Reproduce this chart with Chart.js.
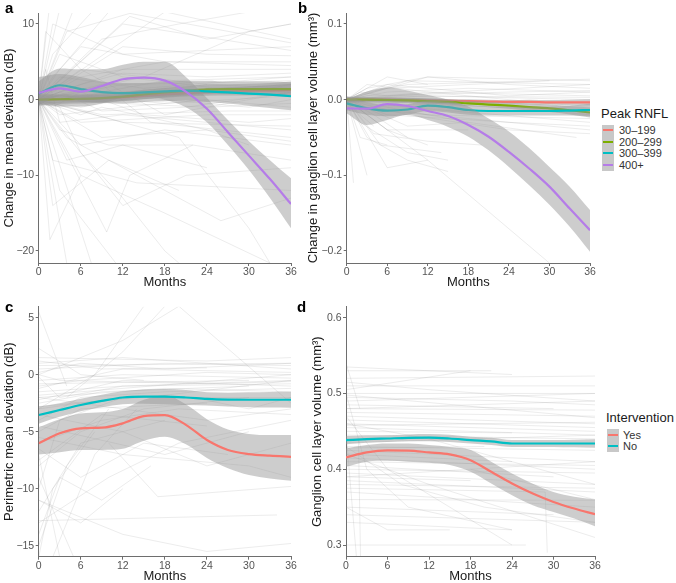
<!DOCTYPE html>
<html lang="en">
<head>
<meta charset="UTF-8">
<title>RNFL and intervention trajectories</title>
<script src="https://cdn.jsdelivr.net/npm/chart.js"></script>
<style>
  body {
    margin: 0;
    width: 676px;
    height: 583px;
    overflow: hidden;
    background: #fff;
    position: relative;
    font-family: "Liberation Sans", Arial, Helvetica, sans-serif;
  }
  canvas { position: absolute; }
  .tag { position: absolute; font-size: 15px; line-height: 15px; font-weight: bold; color: #000; }
  .ttl { position: absolute; font-size: 13px; line-height: 15px; color: #1a1a1a; white-space: nowrap; }
  .keys { position: absolute; background: #c8c8c8; }
  .key { position: absolute; height: 2px; }
  .lab { position: absolute; font-size: 11px; line-height: 12px; color: #333; white-space: nowrap; }
</style>
</head>
<body>
<canvas id="chartA" width="300" height="292" style="left:0;top:0"></canvas>
<canvas id="chartB" width="300" height="292" style="left:300px;top:0"></canvas>
<canvas id="chartC" width="300" height="293" style="left:0;top:292px"></canvas>
<canvas id="chartD" width="305" height="293" style="left:300px;top:292px"></canvas>

<div class="tag" style="left:5px;top:0">a</div>
<div class="tag" style="left:298px;top:0">b</div>
<div class="tag" style="left:5px;top:299px">c</div>
<div class="tag" style="left:297px;top:299px">d</div>

<div id="legendB"></div>
<div id="legendD"></div>

<script>
Chart.defaults.font.family = '"Liberation Sans", Arial, Helvetica, sans-serif';

// Shared axes
const months = [0, 3, 6, 9, 12, 15, 18, 21, 24, 27, 30, 33, 36];
const monthTicks = [0, 6, 12, 18, 24, 30, 36];
const aTicks = [-20, -10, 0, 10];
const bTicks = [-0.2, -0.1, 0, 0.1];
const cTicks = [-15, -10, -5, 0, 5];
const dTicks = [0.3, 0.4, 0.5, 0.6];

const rnflLabels = ["30–199", "200–299", "300–399", "400+"];
const rnflColors = ["#F8766D", "#7CAE00", "#00BFC4", "#B57CE8"];
const interventionLabels = ["Yes", "No"];
const interventionColors = ["#F8766D", "#00BFC4"];

// a: change in mean deviation (dB), smoothed fits per Peak RNFL group
const a30 = [0, 0.05, 0.1, 0.15, 0.3, 0.5, 0.7, 0.85, 1.0, 1.1, 1.15, 1.2, 1.25];
const a30Lo = [-0.6, -0.45, -0.35, -0.3, -0.15, 0.05, 0.25, 0.4, 0.5, 0.55, 0.55, 0.5, 0.4];
const a30Hi = [0.6, 0.55, 0.55, 0.6, 0.75, 0.95, 1.15, 1.3, 1.5, 1.65, 1.75, 1.9, 2.1];
const a200 = [0, 0.05, 0.1, 0.2, 0.4, 0.7, 0.95, 1.15, 1.35, 1.4, 1.4, 1.4, 1.4];
const a200Lo = [-0.8, -0.6, -0.5, -0.4, -0.2, 0.1, 0.35, 0.55, 0.7, 0.75, 0.7, 0.6, 0.4];
const a200Hi = [0.8, 0.7, 0.7, 0.8, 1.0, 1.3, 1.55, 1.75, 2.0, 2.05, 2.1, 2.2, 2.4];
const a300 = [0.8, 1.9, 1.4, 1.0, 0.85, 0.95, 1.1, 1.2, 1.1, 0.95, 0.8, 0.65, 0.45];
const a300Lo = [-0.7, 0.4, -0.2, -0.4, -0.5, -0.3, -0.2, -0.1, -0.3, -0.5, -0.8, -1.1, -1.4];
const a300Hi = [3.0, 3.4, 3.0, 2.4, 2.2, 2.2, 2.4, 2.5, 2.5, 2.4, 2.4, 2.4, 2.3];
const a400 = [0.9, 1.5, 1.06, 1.81, 2.7, 2.91, 2.51, 1.06, -1.2, -4.3, -7.4, -10.5, -13.8];
const a400Lo = [-0.6, -0.9, -0.9, -0.5, 0.2, 0.4, 0.0, -1.0, -3.0, -6.0, -9.3, -13.0, -17.0];
const a400Hi = [2.4, 4.1, 4.0, 4.0, 4.6, 5.0, 5.0, 3.0, 0.2, -2.7, -5.5, -8.0, -10.4];

// b: change in ganglion cell layer volume (mm3)
const b30 = [0, 0, 0, -0.0005, -0.001, -0.0015, -0.002, -0.0025, -0.003, -0.003, -0.0035, -0.0035, -0.0035];
const b30Lo = [-0.003, -0.0025, -0.0025, -0.003, -0.0035, -0.004, -0.0045, -0.005, -0.0055, -0.006, -0.0065, -0.007, -0.0075];
const b30Hi = [0.003, 0.0025, 0.0025, 0.002, 0.0015, 0.001, 0.0005, 0, -0.0005, 0, -0.0005, 0, 0.0005];
const b200 = [0, 0, -0.0005, -0.001, -0.002, -0.003, -0.005, -0.0065, -0.008, -0.01, -0.0115, -0.014, -0.017];
const b200Lo = [-0.004, -0.0035, -0.004, -0.0045, -0.0055, -0.0065, -0.0085, -0.01, -0.012, -0.0145, -0.0165, -0.0195, -0.0235];
const b200Hi = [0.004, 0.0035, 0.003, 0.0025, 0.0015, 0.0005, -0.0015, -0.003, -0.004, -0.0055, -0.0065, -0.0085, -0.0105];
const b300 = [-0.005, -0.0115, -0.0145, -0.013, -0.008, -0.01, -0.0137, -0.015, -0.015, -0.015, -0.015, -0.0145, -0.0137];
const b300Lo = [-0.014, -0.02, -0.022, -0.02, -0.015, -0.017, -0.02, -0.021, -0.021, -0.021, -0.021, -0.021, -0.022];
const b300Hi = [0.004, -0.003, -0.007, -0.006, -0.001, -0.003, -0.0075, -0.009, -0.009, -0.009, -0.009, -0.008, -0.0055];
const b400 = [-0.0115, -0.012, -0.006, -0.0084, -0.015, -0.0216, -0.0335, -0.049, -0.069, -0.091, -0.115, -0.144, -0.1725];
const b400Lo = [-0.018, -0.0335, -0.027, -0.02, -0.027, -0.036, -0.049, -0.067, -0.089, -0.113, -0.139, -0.168, -0.201];
const b400Hi = [0.0, 0.0106, 0.016, 0.012, 0.006, 0.0, -0.009, -0.025, -0.042, -0.064, -0.089, -0.115, -0.146];

// c: perimetric mean deviation (dB) by intervention
const cYes = [-6.02, -5.14, -4.7, -4.65, -4.27, -3.63, -3.54, -4.4, -5.73, -6.6, -6.96, -7.1, -7.2];
const cYesLo = [-7.0, -6.8, -6.6, -6.6, -6.5, -5.8, -5.44, -6.1, -7.3, -8.2, -8.8, -9.1, -9.3];
const cYesHi = [-4.6, -3.9, -3.4, -3.3, -3.0, -2.2, -1.8, -2.6, -3.9, -4.8, -5.2, -5.3, -5.3];
const cNo = [-3.54, -3.1, -2.66, -2.3, -2.0, -1.93, -1.93, -2.0, -2.13, -2.19, -2.2, -2.2, -2.2];
const cNoLo = [-4.3, -3.7, -3.2, -2.85, -2.6, -2.55, -2.6, -2.65, -2.7, -2.8, -2.85, -2.88, -2.9];
const cNoHi = [-2.8, -2.5, -2.1, -1.75, -1.45, -1.3, -1.25, -1.35, -1.55, -1.58, -1.55, -1.52, -1.5];

// d: ganglion cell layer volume (mm3) by intervention
const dYes = [0.4156, 0.4222, 0.4248, 0.4246, 0.4222, 0.4196, 0.412, 0.3966, 0.3812, 0.368, 0.3569, 0.3482, 0.3407];
const dYesLo = [0.4032, 0.41, 0.4111, 0.41, 0.4085, 0.4055, 0.3966, 0.3812, 0.3658, 0.3526, 0.3437, 0.335, 0.3248];
const dYesHi = [0.4275, 0.432, 0.434, 0.434, 0.432, 0.4295, 0.4253, 0.41, 0.3945, 0.381, 0.37, 0.3636, 0.36];
const dNo = [0.4384, 0.4397, 0.4406, 0.4415, 0.4418, 0.4406, 0.4384, 0.4367, 0.434, 0.434, 0.434, 0.434, 0.434];
const dNoLo = [0.433, 0.435, 0.436, 0.437, 0.437, 0.436, 0.434, 0.432, 0.4295, 0.4295, 0.4295, 0.429, 0.4285];
const dNoHi = [0.444, 0.4445, 0.445, 0.446, 0.4465, 0.4455, 0.443, 0.4415, 0.4385, 0.4385, 0.4385, 0.439, 0.4395];

// Individual patient trajectories (month, value, month, value, ...)
const spagA = [
  [0,0, 1.5,12], [0,0, 3,12], [0,0, 5,12], [0,0, 2,6, 8,12],
  [0,0, 4,9, 13,11.4, 36,7.5], [0,0, 6,5, 12,10, 36,6.5], [0,0, 3,4, 10,11.6],
  [0,0, 12,7, 24,6, 36,5.8], [0,0, 6,3, 18,5, 36,4.5], [0,0, 9,8, 20,10, 30,11.6],
  [0,0, 18,11.6, 36,8], [0,0, 6,2, 12,3.5, 24,3, 36,3.5], [0,0, 3,2, 9,1, 18,2.5, 36,3],
  [0,0, 6,-1, 18,1, 36,2], [0,0, 12,1, 24,2, 36,1.5], [0,0, 3,-2, 12,-1, 24,0, 36,-1],
  [0,0, 6,-3, 24,-2, 36,-2], [0,0, 12,-3, 36,-3.5], [0,0, 9,-5, 24,-4, 36,-5.5],
  [0,0, 6,-6, 18,-4, 36,-6], [0,0, 4,-8, 12,-6, 24,-9], [0,0, 1.6,-18.5, 6,-10],
  [0,0, 4,-21.6], [0,0, 7.5,-21.6], [0,0, 9.7,-17.5, 13,-10, 22,-6],
  [0,0, 3,-12, 11,-21.6], [0,0, 2,-14, 10,-8, 20,-12], [0,0, 6,-10, 18,-15, 33,-21.6],
  [0,0, 12,-14, 21,-10, 36,-9], [0,0, 3,-4, 10,-6, 22,-6, 36,-8], [0,0, 2,-8, 14,-11, 36,-12],
  [0,0, 20,-5, 30,-17, 33,-21.6], [0,0, 9,2, 16,-3, 36,-5], [0,0, 15,3, 30,9, 36,10],
  [0,0, 2,3, 6,7, 18,5, 36,5], [0,0, 1,9, 6,4, 24,2], [0,0, 3,6, 12,3, 30,1, 36,2],
  [0,0, 6,1, 30,-1, 36,0], [0,0, 3,1, 9,-1.5, 21,-1, 36,1], [0,0, 12,2, 36,2.5],
  [0,0, 2,-1, 6,1, 15,-2, 30,-3, 36,-2.5], [0,0, 6,-2, 9,-1, 24,-4, 30,-6],
  [0,0, 13,11, 24,8, 36,10], [0,0, 4,-5, 26,-16, 36,-13], [0,0, 1,4, 3,-3, 12,-2, 36,-4],
  [0,0, 6,4, 18,-2, 36,1], [0,0, 3,-1, 6,-7, 12,-13, 18,-20, 20,-21.6],
  [0,0, 24,-1, 36,-0.5], [0,0, 12,4, 36,4], [0,0, 2,10, 12,6, 36,7],
  [0,0, 6,0.5, 18,-0.5, 36,0.5], [0,0, 9,-2, 27,-1.5, 36,-1.5], [0,0, 3,3, 15,1.5, 36,3]
];
const spagB = [
  [0,0, 3,0.01, 9,0.02, 36,0.027], [0,0, 6,0.03, 12,0.02], [0,0, 9,0.025, 36,0.02],
  [0,0, 12,0.03, 24,0.02, 36,0.015], [0,0, 6,0.01, 18,0.015, 36,0.01], [0,0, 3,0.02, 12,0.01, 36,0.005],
  [0,0, 12,0.005, 36,0], [0,0, 6,-0.005, 24,-0.01, 36,-0.02], [0,0, 3,-0.01, 12,-0.02, 36,-0.025],
  [0,0, 6,-0.02, 24,-0.03, 36,-0.035], [0,0, 2,-0.05, 6,-0.06], [0,0, 3,-0.1], [0,0, 1,-0.11],
  [0,0, 6,-0.04, 12,-0.06], [0,0, 2,-0.03, 9,-0.07, 15,-0.08], [0,0, 4,-0.045, 12,-0.055, 20,-0.06],
  [0,0, 5,-0.06, 14,-0.07], [0,0, 3,-0.05, 9,-0.08, 15,-0.095], [0,0, 12,-0.08, 30,-0.216],
  [0,0, 6,-0.01, 18,-0.03, 34,-0.05], [0,0, 9,-0.01, 36,-0.03], [0,0, 3,0.005, 24,0.01, 36,0.012],
  [0,0, 6,0.015, 30,0.025], [0,0, 12,-0.005, 36,-0.008], [0,0, 4,-0.02, 9,-0.05],
  [0,0, 2,0.01, 6,0.005, 36,0.003], [0,0, 9,-0.035, 18,-0.03], [0,0, 6,-0.09, 12,-0.08],
  [0,0, 12,0.01, 36,-0.01], [0,0, 18,-0.005, 36,-0.015], [0,0, 15,0.01, 36,0.02],
  [0,0, 6,-0.015, 36,-0.04], [0,0, 3,0.015, 12,0.03, 36,0.025], [0,0, 6,0.02, 24,0.005, 36,0.01],
  [0,0, 3,-0.02, 6,-0.04, 18,-0.04], [0,0, 9,-0.02, 24,-0.04, 36,-0.045], [0,0, 2,-0.02, 4,-0.035]
];
const spagC = [
  [0,1, 12,1.5, 36,0.5], [0,0.5, 18,1, 36,0.8], [0,-0.5, 12,0, 36,-0.3], [0,-1, 6,-0.5, 24,0.2, 36,0],
  [0,-1.5, 12,-1, 36,-0.8], [0,-2, 18,-1.2, 36,-1.5], [0,-2.5, 9,-1.5, 30,-1], [0,-3, 12,-2, 36,-2],
  [0,0.2, 6,1, 18,0.5, 36,1], [0,1.2, 9,0.5, 24,0.6], [0,-0.2, 3,-2, 12,-1, 36,-0.5], [0,5.5, 4,-1],
  [0,2.3, 6,0, 15,-0.5], [0,-4, 6,-2, 18,-1.5, 36,-1.2], [0,-5, 6,-3, 24,-2.5], [0,-6, 9,-4, 20,-3, 36,-3.5],
  [0,-8, 6,-5, 15,-3, 30,-2], [0,-10, 3,-4, 12,-2], [0,-12, 6,-6, 18,-4], [0,-15, 4,-8, 10,-3],
  [0,-16, 2,-10, 8,-5], [0,-13, 10,-9, 20,-6, 36,-4], [0,-12.8, 20,-12.5, 34,-12.3], [0,-9, 5,-16],
  [0,-7, 3,-16], [2,-16, 8,-7, 14,-3], [0,-11, 12,-14, 24,-15.5, 36,-14.8], [10,-6, 17,-10.7, 36,-9.8],
  [0,-3, 8,0, 15,6], [4,-2, 12,2, 18,6], [0,0, 12,3, 20,6, 36,-2.5], [0,-3.5, 12,-5, 24,-8, 36,-6],
  [0,-4.5, 18,-7, 30,-5], [0,-5.5, 12,-7, 30,-8, 36,-9], [0,-2, 24,-4, 36,-3], [0,0.8, 36,1],
  [0,1.5, 24,1.2, 36,1.5], [0,-0.8, 30,-0.5], [0,-1.8, 36,0], [0,-2.8, 18,-1.8, 36,-0.5],
  [0,-1.2, 6,-0.3, 12,0.5, 36,0.2], [0,-2.2, 12,-0.5, 36,-1], [0,0, 3,-0.5, 24,-0.8, 36,-0.6],
  [0,-14, 3,-9, 9,-11, 16,-8], [0,-11, 6,-13, 12,-10], [0,-6.5, 6,-9, 15,-6, 27,-7],
  [0,-7.5, 9,-3.5, 24,-4.5], [22,-2, 30,-3, 36,-2]
];
const spagD = [
  [0,0.535, 12,0.53, 24,0.525], [0,0.52, 36,0.523], [0,0.51, 36,0.51], [0,0.505, 18,0.53],
  [0,0.5, 36,0.5], [0,0.495, 24,0.49, 36,0.485], [0,0.49, 36,0.5], [0,0.485, 30,0.48],
  [0,0.48, 36,0.478], [0,0.475, 36,0.47], [0,0.47, 36,0.46], [0,0.465, 18,0.46, 36,0.455],
  [0,0.46, 36,0.45], [0,0.455, 36,0.445], [0,0.45, 24,0.448], [0,0.445, 36,0.44],
  [0,0.44, 1.8,0.44, 2.1,0.285], [0,0.43, 36,0.425], [0,0.425, 36,0.41], [0,0.42, 24,0.41],
  [0,0.415, 36,0.4], [0,0.41, 36,0.405], [0,0.405, 30,0.39], [0,0.4, 36,0.395],
  [0,0.395, 36,0.38], [0,0.39, 18,0.385], [0,0.385, 36,0.37], [0,0.38, 36,0.375],
  [0,0.375, 28.8,0.37, 29.1,0.29], [0,0.37, 36,0.35], [0,0.36, 36,0.359], [0,0.35, 30,0.34],
  [0,0.34, 36,0.33], [0,0.33, 24,0.32], [0,0.3, 26,0.3], [0,0.5, 3,0.4, 9,0.35, 24,0.32],
  [0,0.47, 6,0.4, 24,0.3], [0,0.42, 12,0.38, 36,0.31], [0,0.46, 12,0.44, 36,0.38], [0,0.54, 2,0.48],
  [0,0.45, 1.5,0.285], [0,0.48, 36,0.49], [18,0.4, 36,0.36], [0,0.515, 12,0.505, 36,0.49],
  [0,0.498, 36,0.468], [0,0.458, 36,0.462], [0,0.435, 36,0.445], [0,0.428, 20,0.43],
  [0,0.39, 36,0.41], [0,0.53, 21,0.53], [0,0.35, 6,0.32, 15,0.32], [0,0.43, 8,0.38, 20,0.35, 36,0.33]
];

const SPAG_COLOR = "rgba(130, 130, 130, 0.15)";
const BAND_COLOR = "rgba(150, 150, 150, 0.48)";
const AXIS_COLOR = "#6e6e6e";
const TICK_TEXT = "#555555";

function pairs(flat) {
  const out = [];
  for (let i = 0; i < flat.length; i += 2) out.push({ x: flat[i], y: flat[i + 1] });
  return out;
}

function onMonths(values) {
  return months.map((m, i) => ({ x: m, y: values[i] }));
}

// ggplot draws each group's ribbon then its line, so later ribbons wash over earlier lines
function buildDatasets(spag, groups) {
  const ds = spag.map((s) => ({
    data: pairs(s),
    borderColor: SPAG_COLOR,
    borderWidth: 1,
    pointRadius: 0,
    fill: false,
    order: 100,
  }));
  groups.forEach((g, i) => {
    const base = 50 - i * 3;
    ds.push({
      data: onMonths(g.lo),
      borderWidth: 0,
      borderColor: "transparent",
      pointRadius: 0,
      fill: false,
      cubicInterpolationMode: "monotone",
      order: base,
    });
    ds.push({
      data: onMonths(g.hi),
      borderWidth: 0,
      borderColor: "transparent",
      backgroundColor: BAND_COLOR,
      pointRadius: 0,
      fill: "-1",
      cubicInterpolationMode: "monotone",
      order: base,
    });
    ds.push({
      label: g.label,
      data: onMonths(g.mid),
      borderColor: g.color,
      borderWidth: 2.2,
      pointRadius: 0,
      fill: false,
      cubicInterpolationMode: "monotone",
      order: base - 1,
    });
  });
  return ds;
}

function fmtTick(decimals) {
  return (v) => {
    const s = Number(v).toFixed(decimals);
    return s.replace("-", "\u2212");
  };
}

function makePanel(id, datasets, p) {
  new Chart(document.getElementById(id), {
    type: "line",
    data: { datasets },
    options: {
      responsive: false,
      animation: false,
      events: [],
      layout: { padding: p.padding },
      plugins: { legend: { display: false }, tooltip: { enabled: false } },
      scales: {
        x: {
          type: "linear",
          min: 0,
          max: 36,
          afterBuildTicks: (s) => { s.ticks = monthTicks.map((v) => ({ value: v })); },
          afterFit: (s) => { s.height = p.xHeight; },
          ticks: { color: TICK_TEXT, font: { size: 10.5 }, padding: 0, maxRotation: 0, autoSkip: false },
          grid: { drawOnChartArea: false, tickLength: 3, tickColor: AXIS_COLOR, tickWidth: 1 },
          border: { color: AXIS_COLOR, width: 1 },
          title: {
            display: true,
            text: "Months",
            color: "#1a1a1a",
            font: { size: 13 },
            padding: { top: 0, bottom: p.xTitlePad },
          },
        },
        y: {
          type: "linear",
          min: p.yMin,
          max: p.yMax,
          afterBuildTicks: (s) => { s.ticks = p.yTicks.map((v) => ({ value: v })); },
          afterFit: (s) => { s.width = p.yWidth; },
          ticks: { color: TICK_TEXT, font: { size: 10.5 }, padding: 1.5, autoSkip: false, callback: fmtTick(p.decimals) },
          grid: { drawOnChartArea: false, tickLength: 3, tickColor: AXIS_COLOR, tickWidth: 1 },
          border: { color: AXIS_COLOR, width: 1 },
          title: {
            display: true,
            text: p.yTitle,
            color: "#1a1a1a",
            font: { size: 13 },
            padding: { top: p.yTitlePad, bottom: 0 },
          },
        },
      },
    },
  });
}

const rnflFitsA = [[a30, a30Lo, a30Hi], [a200, a200Lo, a200Hi], [a300, a300Lo, a300Hi], [a400, a400Lo, a400Hi]];
const rnflFitsB = [[b30, b30Lo, b30Hi], [b200, b200Lo, b200Hi], [b300, b300Lo, b300Hi], [b400, b400Lo, b400Hi]];

const groupsA = rnflFitsA.map((g, i) => ({ mid: g[0], lo: g[1], hi: g[2], color: rnflColors[i], label: rnflLabels[i] }));
const groupsB = rnflFitsB.map((g, i) => ({ mid: g[0], lo: g[1], hi: g[2], color: rnflColors[i], label: rnflLabels[i] }));
const groupsC = [
  { mid: cYes, lo: cYesLo, hi: cYesHi, color: interventionColors[0], label: interventionLabels[0] },
  { mid: cNo, lo: cNoLo, hi: cNoHi, color: interventionColors[1], label: interventionLabels[1] },
];
const groupsD = [
  { mid: dYes, lo: dYesLo, hi: dYesHi, color: interventionColors[0], label: interventionLabels[0] },
  { mid: dNo, lo: dNoLo, hi: dNoHi, color: interventionColors[1], label: interventionLabels[1] },
];

makePanel("chartA", buildDatasets(spagA, groupsA), {
  padding: { top: 13, left: 0, right: 9, bottom: 0 },
  yMin: -21.59, yMax: 11.45, yTicks: aTicks, decimals: 0,
  yTitle: "Change in mean deviation (dB)",
  yWidth: 38.7, yTitlePad: 1.2, xHeight: 29, xTitlePad: 1.5,
});
makePanel("chartB", buildDatasets(spagB, groupsB), {
  padding: { top: 13, left: 0, right: 10, bottom: 0 },
  yMin: -0.2159, yMax: 0.1145, yTicks: bTicks, decimals: 1,
  yTitle: "Change in ganglion cell layer volume (mm³)",
  yWidth: 46.7, yTitlePad: 5.2, xHeight: 29, xTitlePad: 1.5,
});
makePanel("chartC", buildDatasets(spagC, groupsC), {
  padding: { top: 14.7, left: 0, right: 9, bottom: 0 },
  yMin: -15.96, yMax: 5.96, yTicks: cTicks, decimals: 0,
  yTitle: "Perimetric mean deviation (dB)",
  yWidth: 38.7, yTitlePad: 1.7, xHeight: 28.3, xTitlePad: 0.7,
});
makePanel("chartD", buildDatasets(spagD, groupsD), {
  padding: { top: 14.7, left: 0, right: 10, bottom: 0 },
  yMin: 0.2846, yMax: 0.6145, yTicks: dTicks, decimals: 1,
  yTitle: "Ganglion cell layer volume (mm³)",
  yWidth: 46, yTitlePad: 9.7, xHeight: 28.3, xTitlePad: 0.7,
});

// ggplot-style legends: title, grey key column with coloured strokes, labels
function buildLegend(el, x, titleY, keysTop, keyH, title, labels, colors, labelX) {
  let html = `<div class="ttl" style="left:${x}px;top:${titleY}px">${title}</div>`;
  html += `<div class="keys" style="left:${x + 1}px;top:${keysTop}px;width:11.5px;height:${keyH * labels.length}px"></div>`;
  labels.forEach((lab, i) => {
    const cy = keysTop + keyH * i + keyH / 2;
    html += `<div class="key" style="left:${x + 2}px;top:${cy - 1}px;width:9.5px;background:${colors[i]}"></div>`;
    html += `<div class="lab" style="left:${labelX}px;top:${cy - 6}px">${lab}</div>`;
  });
  el.innerHTML = html;
}

buildLegend(document.getElementById("legendB"), 601, 105.5, 124.5, 11.5, "Peak RNFL", rnflLabels, rnflColors, 619);
buildLegend(document.getElementById("legendD"), 606, 409.5, 429, 11.5, "Intervention", interventionLabels, interventionColors, 623);
</script>
</body>
</html>
